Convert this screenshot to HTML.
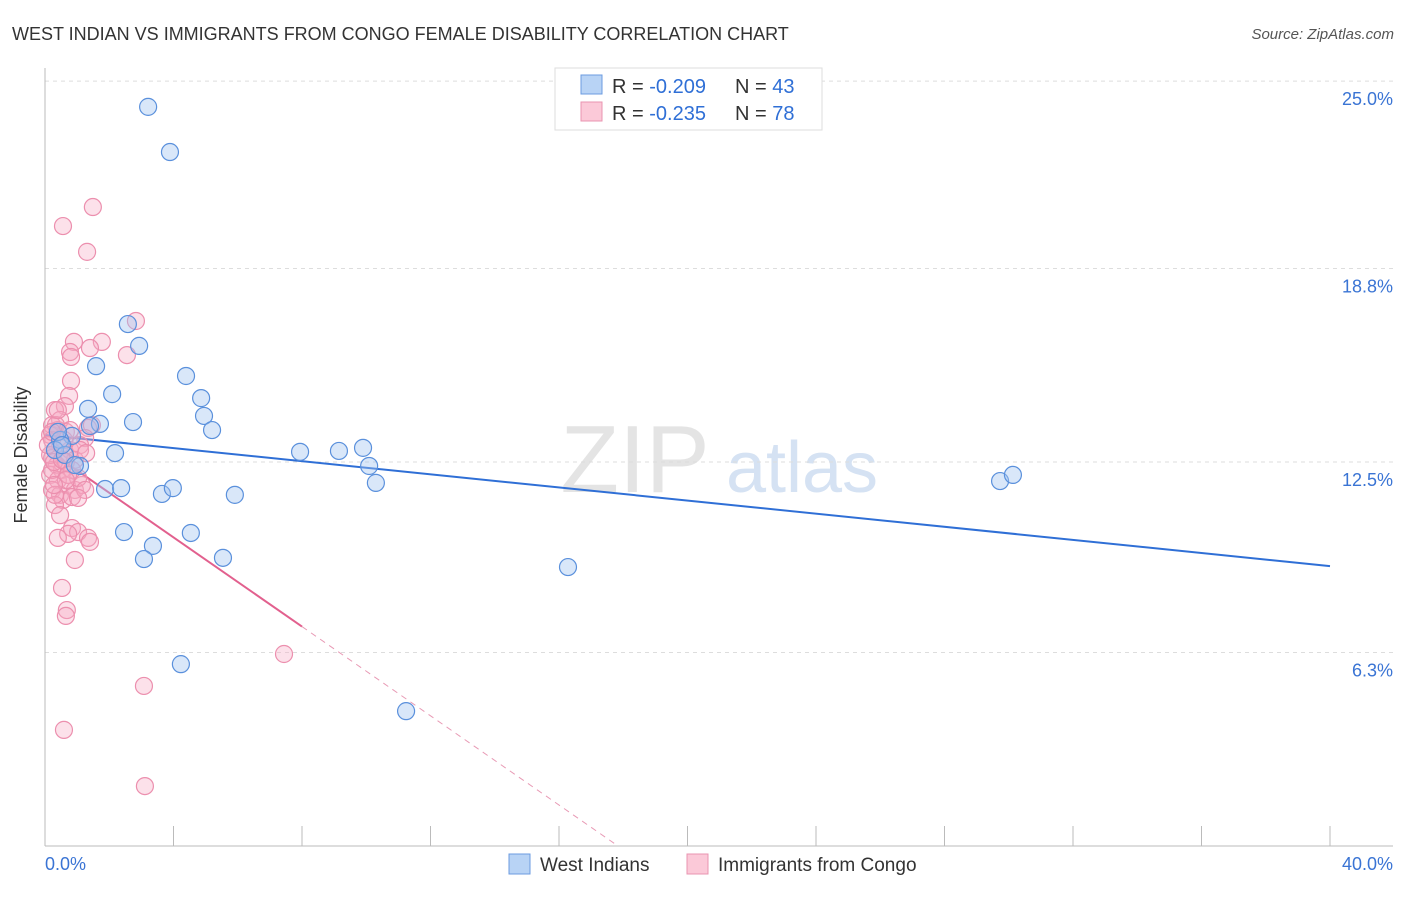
<!DOCTYPE html>
<html><head><meta charset="utf-8"><style>
body{margin:0;background:#fff;font-family:"Liberation Sans",sans-serif;}
svg text{font-family:"Liberation Sans",sans-serif;}
</style></head><body>
<svg id="c" width="1406" height="892" xmlns="http://www.w3.org/2000/svg">
<text x="12" y="40" font-size="18" fill="#333">WEST INDIAN VS IMMIGRANTS FROM CONGO FEMALE DISABILITY CORRELATION CHART</text>
<text x="1394" y="39" font-size="15" fill="#555" font-style="italic" text-anchor="end">Source: ZipAtlas.com</text>
<text x="635" y="492" font-size="96" fill="#e4e4e4" font-family="Liberation Serif" text-anchor="middle">ZIP</text>
<text x="802" y="492" font-size="72" fill="#d5e2f3" text-anchor="middle">atlas</text>
<g id="grid"></g><g id="axes"></g><g id="lines"></g><g id="pts"></g>
<text x="27" y="455" font-size="18" fill="#333" text-anchor="middle" transform="rotate(-90 27 455)">Female Disability</text>
<g>
<rect x="555" y="68" width="267" height="62" fill="#fff" stroke="#ddd"/>
<rect x="581" y="75" width="21" height="19" fill="#b8d3f5" stroke="#6b9be0"/>
<rect x="581" y="102" width="21" height="19" fill="#fbc9d8" stroke="#ea94b0"/>
<text x="612" y="93" font-size="20" fill="#333">R = <tspan fill="#2f6fd6">-0.209</tspan><tspan x="735">N = </tspan><tspan fill="#2f6fd6">43</tspan></text>
<text x="612" y="120" font-size="20" fill="#333">R = <tspan fill="#2f6fd6"> -0.235</tspan><tspan x="735">N = </tspan><tspan fill="#2f6fd6">78</tspan></text>
</g>
<g>
<rect x="509" y="854" width="21" height="20" fill="#b8d3f5" stroke="#6b9be0"/>
<text x="540" y="871" font-size="19" fill="#333">West Indians</text>
<rect x="687" y="854" width="21" height="20" fill="#fbc9d8" stroke="#ea94b0"/>
<text x="718" y="871" font-size="19" fill="#333">Immigrants from Congo</text>
</g>
</svg>
<script>
const yTicks=[6.3,12.5,18.8,25.0];
const yTickLabels=["6.3%","12.5%","18.8%","25.0%"];
const xTickLabels=["0.0%","40.0%"];
const blueX=[3.21,3.89,2.58,2.93,1.59,4.39,2.09,4.86,1.34,4.95,2.74,5.20,1.71,0.84,1.40,7.94,9.15,9.90,2.18,10.09,10.30,1.09,1.87,2.37,3.64,3.98,5.91,2.46,4.54,3.36,3.08,5.54,16.28,4.23,11.24,29.73,30.13,0.47,0.31,0.62,0.93,0.40,0.53];
const blueY=[24.06,22.59,16.99,16.28,15.62,15.30,14.71,14.58,14.23,14.00,13.80,13.54,13.74,13.35,13.67,12.83,12.86,12.96,12.79,12.37,11.82,12.37,11.62,11.65,11.46,11.65,11.43,10.22,10.19,9.77,9.34,9.38,9.08,5.92,4.39,11.88,12.08,13.22,12.89,12.73,12.40,13.48,13.05];
const pinkX=[1.49,0.56,1.31,2.83,0.90,1.77,0.78,1.40,2.55,0.81,0.81,0.75,0.62,0.31,0.47,0.22,0.40,0.16,0.65,0.22,0.47,0.31,0.62,0.78,0.22,0.37,0.53,0.16,0.40,0.68,0.22,0.47,0.93,1.15,0.56,0.31,0.84,1.34,1.46,1.25,1.09,0.93,1.03,1.25,1.03,0.84,1.03,1.34,1.40,0.72,0.40,0.93,0.53,0.68,0.65,7.44,3.08,0.59,3.11,0.22,0.16,0.28,0.65,0.84,0.34,0.59,0.09,0.22,0.53,0.72,0.31,1.09,1.28,0.40,0.78,0.65,0.28,0.47];
const pinkY=[20.80,20.18,19.34,17.09,16.41,16.41,16.08,16.21,15.98,15.92,15.14,14.65,14.32,14.19,13.87,13.70,13.54,13.38,13.48,13.22,13.05,12.89,12.73,12.89,12.63,12.40,12.24,12.08,11.91,11.75,11.59,11.43,11.59,11.75,11.26,11.10,11.36,13.61,13.70,13.28,13.05,12.57,11.98,11.59,11.33,10.35,10.22,10.03,9.90,10.16,10.03,9.31,8.40,7.68,7.49,6.25,5.21,3.78,1.95,12.24,12.73,12.50,12.50,12.24,13.70,13.22,13.05,13.48,12.57,12.08,11.43,12.89,12.79,14.19,13.54,11.91,11.75,10.77];
const blueTrend=[13.38,9.11];
const pinkTrend=[12.95,-0.726];
const X=v=>45+v*32.125, Y=v=>846-v*30.72;
const NS="http://www.w3.org/2000/svg";
function mk(t,a,p){const e=document.createElementNS(NS,t);for(const k in a)e.setAttribute(k,a[k]);p.appendChild(e);return e;}
const grid=document.getElementById('grid'),axes=document.getElementById('axes'),lines=document.getElementById('lines'),pts=document.getElementById('pts');
yTicks.forEach((t,i)=>{
 const gy=Y(t===25?24.9:t);
 const l=mk('line',{x1:45,x2:1393,y1:gy,y2:gy,stroke:'#ddd','stroke-dasharray':'4 4'},grid);
 
 
 const tx=mk('text',{x:1393,y:gy+24,'font-size':18,fill:'#3a74d4','text-anchor':'end'},axes);
 tx.textContent=yTickLabels[i];
 
 
});
let a=mk('line',{x1:45,x2:45,y1:68,y2:846,stroke:'#bbb'},axes);


a=mk('line',{x1:45,x2:1393,y1:846,y2:846,stroke:'#bbb'},axes);


for(let i=1;i<=10;i++){const t=mk('line',{x1:X(i*4),x2:X(i*4),y1:826,y2:846,stroke:'#bbb'},axes);
 
 }
let t1=mk('text',{x:45,y:870,'font-size':18,fill:'#3a74d4'},axes);t1.textContent=xTickLabels[0];


t1=mk('text',{x:1393,y:870,'font-size':18,fill:'#3a74d4','text-anchor':'end'},axes);t1.textContent=xTickLabels[1];


let bl=mk('line',{x1:X(0),y1:Y(blueTrend[0]),x2:X(40),y2:Y(blueTrend[1]),stroke:'#2f6fd6','stroke-width':2},lines);


const pe=-pinkTrend[0]/pinkTrend[1];
let pl=mk('line',{x1:X(0.3),y1:Y(pinkTrend[0]+pinkTrend[1]*0.3),x2:X(8),y2:Y(pinkTrend[0]+pinkTrend[1]*8),stroke:'#e2608e','stroke-width':2},lines);


let pd=mk('line',{x1:X(8),y1:Y(pinkTrend[0]+pinkTrend[1]*8),x2:X(pe),y2:Y(0),stroke:'#e89ab5','stroke-width':1,'stroke-dasharray':'6 5'},lines);


pinkX.forEach((x,i)=>{const c=mk('circle',{cx:X(x),cy:Y(pinkY[i]),r:8.5,fill:'rgba(246,170,196,0.35)',stroke:'#ec8fae','stroke-width':1.2},pts);
 
 });
blueX.forEach((x,i)=>{const c=mk('circle',{cx:X(x),cy:Y(blueY[i]),r:8.5,fill:'rgba(160,196,240,0.4)',stroke:'#5a90dc','stroke-width':1.2},pts);
 
 });
</script>
</body></html>
